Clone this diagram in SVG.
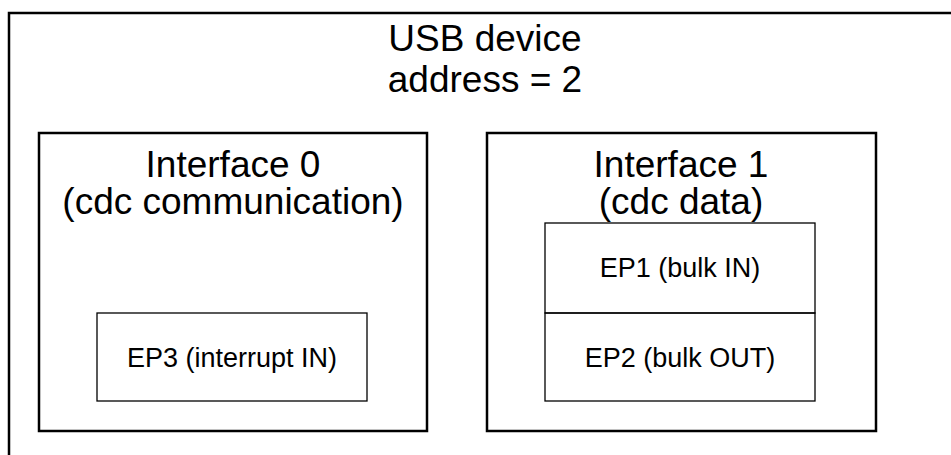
<svg xmlns="http://www.w3.org/2000/svg" width="951" height="455" viewBox="0 0 951 455">
<style>
text{font-family:"Liberation Sans",Arial,sans-serif;fill:#000;text-anchor:middle}
.big{font-size:37px}
.ep{font-size:27px}
.thick{fill:none;stroke:#000;stroke-width:2.5}
.thin{fill:none;stroke:#000;stroke-width:1.3}
</style>
<rect width="951" height="455" fill="#fff"/>
<g id="device">
<rect class="thick" x="9" y="13" width="960" height="460"/>
<text class="big" x="485" y="51">USB device</text>
<text class="big" x="485" y="92">address = 2</text>
</g>
<g id="interface0">
<rect class="thick" x="39" y="133" width="388" height="298"/>
<text class="big" x="233" y="177">Interface 0</text>
<text class="big" x="233" y="214">(cdc communication)</text>
</g>
<g id="ep3">
<rect class="thin" x="97" y="313" width="270" height="88"/>
<text class="ep" x="232" y="367">EP3 (interrupt IN)</text>
</g>
<g id="interface1">
<rect class="thick" x="487" y="133" width="389" height="298"/>
<text class="big" x="681" y="177">Interface 1</text>
<text class="big" x="681" y="214">(cdc data)</text>
</g>
<g id="ep1">
<rect class="thin" x="545" y="223" width="270" height="90"/>
<text class="ep" x="680" y="277">EP1 (bulk IN)</text>
</g>
<g id="ep2">
<rect class="thin" x="545" y="313" width="270" height="88"/>
<text class="ep" x="680" y="367">EP2 (bulk OUT)</text>
</g>
<g id="connectors"></g>
</svg>
